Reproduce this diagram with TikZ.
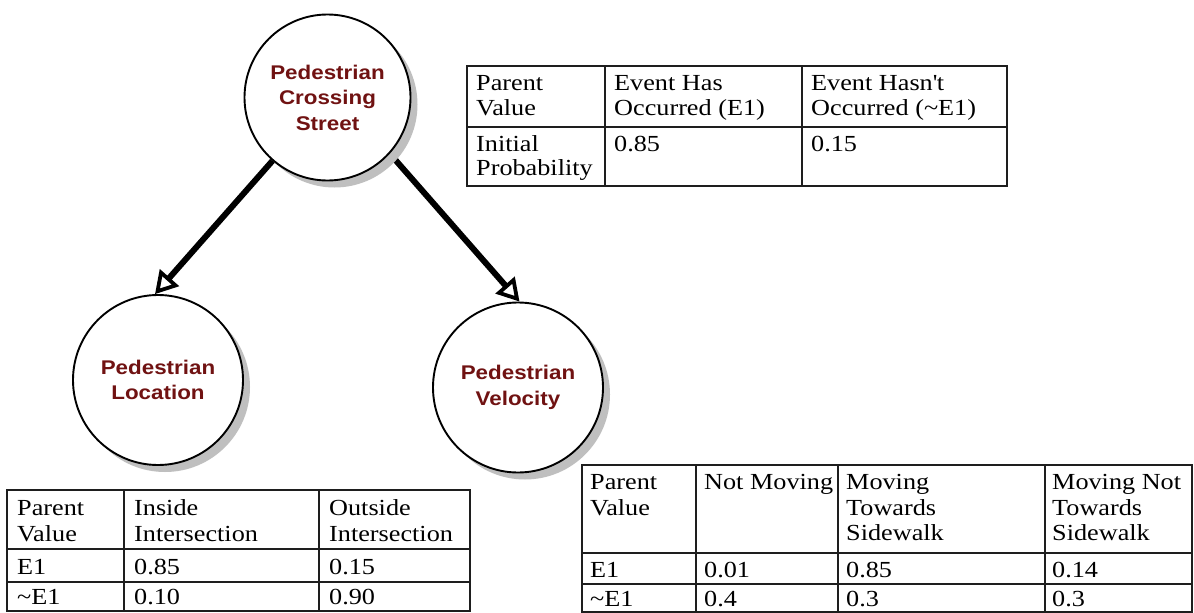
\documentclass[tikz,border=0pt]{standalone}
\usepackage{fontspec}
\usetikzlibrary{arrows.meta,shadows,backgrounds}
\newfontfamily\tabfont[FakeStretch=1.14]{Liberation Serif}
\newfontfamily\labelfont[FakeStretch=1.13]{Liberation Sans}
\definecolor{labelred}{RGB}{112,18,18}
\definecolor{rulecol}{RGB}{30,30,30}

\begin{document}
\begin{tikzpicture}[x=1pt,y=-1pt,
  bayes/.style={circle, draw=black, line width=1.9pt, fill=white, inner sep=0pt,
    text=labelred, align=center,
    font=\labelfont\bfseries\fontsize{19.8}{25.5}\selectfont,
    drop shadow={shadow xshift=7pt, shadow yshift=-7pt, fill=black!25, opacity=1}},
  link/.style={line width=6pt,
    -{Triangle[open, length=22pt, width=25pt, line width=3.8pt]}},
  cell/.style={anchor=base west, inner sep=0pt,
    font=\tabfont\fontsize{23}{25}\selectfont},
  grid/.style={draw=rulecol, line width=1.3pt}]

\useasboundingbox (0,0) rectangle (1194,613);

% network nodes
\node[bayes, minimum size=166pt] (pcs) at (327.5,97.5) {Pedestrian\\Crossing\\Street};
\node[bayes, minimum size=170pt] (loc) at (158,380) {Pedestrian\\Location};
\node[bayes, minimum size=170pt] (vel) at (518,387.5) {Pedestrian\\Velocity};

% links sit beneath the nodes and their shadows
\begin{scope}[on background layer]
  \fill[white] (0,0) rectangle (1194,613);
  \draw[link] (pcs.229) -- (loc.92);
  \draw[link] (pcs.318) -- (vel.89);
\end{scope}

% prior table of the root node
\draw[grid] (467,66) rectangle (1007,186);
\draw[grid] (467,127) -- (1007,127);
\draw[grid] (605,66) -- (605,186);
\draw[grid] (802,66) -- (802,186);
\node[cell] (p11a) at (476,90)  {Parent};
\node[cell] (p11b) at (476,115) {Value};
\node[cell] (p12a) at (614,90)  {Event Has};
\node[cell] (p12b) at (614,115) {Occurred (E1)};
\node[cell] (p13a) at (811,90)  {Event Hasn\textquotesingle t};
\node[cell] (p13b) at (811,115) {Occurred (\textasciitilde E1)};
\node[cell] (p21a) at (476,151) {Initial};
\node[cell] (p21b) at (476,175) {Probability};
\node[cell] (p22)  at (614,151) {0.85};
\node[cell] (p23)  at (811,151) {0.15};

% conditional table of the location node
\draw[grid] (7,490) rectangle (470,611);
\draw[grid] (7,549) -- (470,549);
\draw[grid] (7,582) -- (470,582);
\draw[grid] (124,490) -- (124,611);
\draw[grid] (319,490) -- (319,611);
\node[cell] (l11a) at (17,515)  {Parent};
\node[cell] (l11b) at (17,541)  {Value};
\node[cell] (l12a) at (134,515) {Inside};
\node[cell] (l12b) at (134,541) {Intersection};
\node[cell] (l13a) at (329,515) {Outside};
\node[cell] (l13b) at (329,541) {Intersection};
\node[cell] (l21)  at (17,574)  {E1};
\node[cell] (l22)  at (134,574) {0.85};
\node[cell] (l23)  at (329,574) {0.15};
\node[cell] (l31)  at (17,604)  {\textasciitilde E1};
\node[cell] (l32)  at (134,604) {0.10};
\node[cell] (l33)  at (329,604) {0.90};

% conditional table of the velocity node
\draw[grid] (582,465) rectangle (1192,612);
\draw[grid] (582,553) -- (1192,553);
\draw[grid] (582,584) -- (1192,584);
\draw[grid] (696,465) -- (696,612);
\draw[grid] (838,465) -- (838,612);
\draw[grid] (1045,465) -- (1045,612);
\node[cell] (v11a) at (590,489)  {Parent};
\node[cell] (v11b) at (590,515)  {Value};
\node[cell] (v12)  at (704,489)  {Not Moving};
\node[cell] (v13a) at (846,489)  {Moving};
\node[cell] (v13b) at (846,515)  {Towards};
\node[cell] (v13c) at (846,540)  {Sidewalk};
\node[cell] (v14a) at (1052,489) {Moving Not};
\node[cell] (v14b) at (1052,515) {Towards};
\node[cell] (v14c) at (1052,540) {Sidewalk};
\node[cell] (v21)  at (590,577)  {E1};
\node[cell] (v22)  at (704,577)  {0.01};
\node[cell] (v23)  at (846,577)  {0.85};
\node[cell] (v24)  at (1052,577) {0.14};
\node[cell] (v31)  at (590,606)  {\textasciitilde E1};
\node[cell] (v32)  at (704,606)  {0.4};
\node[cell] (v33)  at (846,606)  {0.3};
\node[cell] (v34)  at (1052,606) {0.3};
\end{tikzpicture}
\end{document}
